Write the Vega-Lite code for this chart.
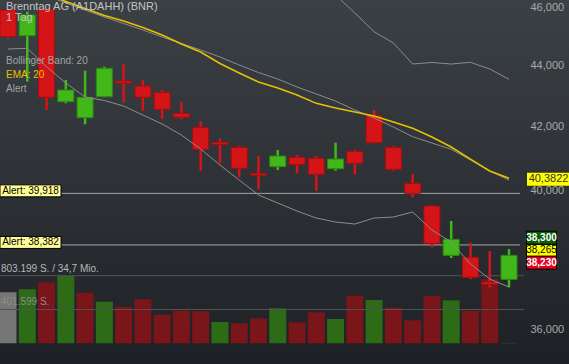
{
"$schema":"https://vega.github.io/schema/vega-lite/v6.json",
"width":569,"height":364,"autosize":{"type":"none"},"padding":0,
"background":"#2c3035",
"title":{"text":"Brenntag AG (A1DAHH) (BNR)","subtitle":"1 Tag","anchor":"start","frame":"group","offset":-23,"dx":6,"fontSize":11,"subtitleFontSize":11,"font":"Liberation Sans","subtitleFont":"Liberation Sans","fontWeight":"normal","color":"#c4c4c4","subtitleColor":"#c4c4c4","subtitlePadding":0},
"config":{
 "locale":{"number":{"decimal":",","thousands":".","grouping":[3],"currency":[""," €"]}},
 "font":"Liberation Sans",
 "view":{"stroke":null,"fill":{"gradient":"linear","x1":0,"y1":0,"x2":0,"y2":1,"stops":[{"offset":0,"color":"#3b4045"},{"offset":0.5,"color":"#2e3236"},{"offset":1,"color":"#1d2024"}]}}
},
"datasets":{
 "k":[
  {"d":"2018-11-06","o":45.895,"h":45.93,"l":44.928,"c":44.972,"v":606000,"vc":"n","mb":46.884,"lb":44.553,"ema":46.955},
  {"d":"2018-11-07","o":45.006,"h":45.836,"l":43.458,"c":45.721,"v":641600,"vc":"u","mb":46.634,"lb":44.577,"ema":46.706},
  {"d":"2018-11-08","o":45.92,"h":45.93,"l":42.532,"c":42.945,"v":724800,"vc":"d","mb":46.401,"lb":43.957,"ema":46.457},
  {"d":"2018-11-09","o":42.801,"h":43.514,"l":42.749,"c":43.184,"v":803199,"vc":"u","mb":46.14,"lb":43.415,"ema":46.193},
  {"d":"2018-11-12","o":42.283,"h":43.823,"l":42.072,"c":42.945,"v":601200,"vc":"d","mb":45.895,"lb":42.955,"ema":45.948},
  {"d":"2018-11-13","o":42.965,"h":43.957,"l":42.945,"c":43.903,"v":494300,"vc":"u","mb":45.651,"lb":42.841,"ema":45.703},
  {"d":"2018-11-14","o":43.481,"h":44.047,"l":42.769,"c":43.405,"v":434900,"vc":"d","mb":45.426,"lb":42.662,"ema":45.513},
  {"d":"2018-11-15","o":43.316,"h":43.514,"l":42.509,"c":42.945,"v":522800,"vc":"d","mb":45.202,"lb":42.37,"ema":45.288},
  {"d":"2018-11-16","o":43.108,"h":43.184,"l":42.241,"c":42.555,"v":339800,"vc":"d","mb":44.962,"lb":42.081,"ema":45.03},
  {"d":"2018-11-19","o":42.425,"h":42.801,"l":42.241,"c":42.296,"v":387400,"vc":"d","mb":44.74,"lb":41.73,"ema":44.723},
  {"d":"2018-11-20","o":41.976,"h":42.177,"l":40.612,"c":41.279,"v":380200,"vc":"d","mb":44.519,"lb":41.288,"ema":44.451},
  {"d":"2018-11-21","o":41.499,"h":41.626,"l":40.841,"c":41.424,"v":253100,"vc":"u","mb":44.283,"lb":40.788,"ema":44.064},
  {"d":"2018-11-22","o":41.342,"h":41.383,"l":40.408,"c":40.686,"v":237600,"vc":"d","mb":44.014,"lb":40.325,"ema":43.747},
  {"d":"2018-11-23","o":40.532,"h":41.069,"l":40.041,"c":40.47,"v":297000,"vc":"d","mb":43.763,"lb":39.868,"ema":43.448},
  {"d":"2018-11-26","o":40.736,"h":41.257,"l":40.634,"c":41.069,"v":415900,"vc":"u","mb":43.547,"lb":39.626,"ema":43.25},
  {"d":"2018-11-27","o":41.028,"h":41.1,"l":40.532,"c":40.797,"v":249500,"vc":"d","mb":43.283,"lb":39.385,"ema":43.02},
  {"d":"2018-11-28","o":40.997,"h":41.069,"l":39.998,"c":40.501,"v":368300,"vc":"d","mb":43.053,"lb":39.176,"ema":42.749,"ub":47.098},
  {"d":"2018-11-29","o":40.674,"h":41.486,"l":40.612,"c":40.975,"v":288700,"vc":"u","mb":42.824,"lb":39.057,"ema":42.597,"ub":46.422},
  {"d":"2018-11-30","o":41.216,"h":41.257,"l":40.488,"c":40.841,"v":565600,"vc":"d","mb":42.532,"lb":38.997,"ema":42.467,"ub":45.79},
  {"d":"2018-12-03","o":42.348,"h":42.532,"l":41.468,"c":41.486,"v":514500,"vc":"u","mb":42.274,"lb":39.176,"ema":42.338,"ub":45.143},
  {"d":"2018-12-04","o":41.342,"h":41.383,"l":40.612,"c":40.655,"v":423000,"vc":"d","mb":41.985,"lb":39.206,"ema":42.145,"ub":44.757},
  {"d":"2018-12-05","o":40.224,"h":40.51,"l":39.798,"c":39.919,"v":273300,"vc":"d","mb":41.676,"lb":39.355,"ema":41.944,"ub":44.047},
  {"d":"2018-12-06","o":39.535,"h":39.566,"l":38.312,"c":38.428,"v":562000,"vc":"d","mb":41.477,"lb":38.82,"ema":41.667,"ub":44.098},
  {"d":"2018-12-07","o":38.08,"h":39.087,"l":38.002,"c":38.546,"v":510900,"vc":"u","mb":41.279,"lb":38.467,"ema":41.351,"ub":44.047},
  {"d":"2018-12-10","o":38.021,"h":38.447,"l":37.399,"c":37.447,"v":387400,"vc":"d","mb":40.944,"lb":37.828,"ema":40.975,"ub":44.104},
  {"d":"2018-12-11","o":37.314,"h":38.204,"l":37.163,"c":37.243,"v":764000,"vc":"d","mb":40.603,"lb":37.399,"ema":40.603,"ub":43.88},
  {"d":"2018-12-12","o":37.39,"h":38.263,"l":37.163,"c":38.08,"v":5000,"vc":"u","mb":40.325,"lb":37.172,"ema":40.382,"ub":43.537}
 ],
 "alerts":[{"p":39.918,"label":"Alert: 39,918"},{"p":38.382,"label":"Alert: 38,382"}],
 "vref":[{"v":803199,"label":"803.199 S. / 34,7 Mio."},{"v":401599.5,"label":"401.599 S."}],
 "ticks":[{"p":36},{"p":40},{"p":42},{"p":44},{"p":46}],
 "tags":[{"p":40.3822,"k":"ema"},{"p":38.3,"k":"last"},{"p":38.265,"k":"mid"},{"p":38.23,"k":"low"}]
},
"resolve":{"scale":{"y":"independent","color":"independent"},"axis":{"y":"independent"}},
"layer":[
  {"data":{"name":"k"},"mark":{"type":"bar","width":17},
   "encoding":{
    "x":{"field":"d","type":"ordinal","scale":{"type":"point","range":[8,509],"padding":0},
      "axis":{"values":["2018-11-12","2018-11-19","2018-11-26","2018-12-03","2018-12-10"],"labelExpr":"substring(datum.value,8,10)+'.'+substring(datum.value,5,7)+'.'","orient":"bottom","offset":-15,"labelPadding":2,"domain":false,"ticks":false,"grid":false,"title":null,"labelColor":"#c3c3c3","labelFontSize":10,"labelAngle":0}},
    "y":{"field":"v","type":"quantitative","scale":{"domain":[-245950,4078950],"nice":false,"zero":false},"axis":null},
    "y2":{"datum":0},
    "color":{"field":"vc","type":"nominal","scale":{"domain":["u","d","n"],"range":["#2d6b17","#7a1519","#767676"]},"legend":null}}},
  {"data":{"name":"vref"},"mark":{"type":"rule","color":"#4f5459","strokeWidth":1,"xOffset":-8,"x2Offset":15},
   "encoding":{
    "x":{"datum":"2018-11-06","type":"ordinal","axis":null},
    "x2":{"datum":"2018-12-12"},
    "y":{"field":"v","type":"quantitative","scale":{"domain":[-245950,4078950],"nice":false,"zero":false},"axis":null}}},
  {"data":{"name":"vref"},"mark":{"type":"text","align":"left","baseline":"bottom","xOffset":-7,"yOffset":-2,"fontSize":10},
   "encoding":{
    "x":{"datum":"2018-11-06","type":"ordinal","axis":null},
    "y":{"field":"v","type":"quantitative","scale":{"domain":[-245950,4078950],"nice":false,"zero":false},"axis":null},
    "text":{"field":"label"},
    "color":{"condition":{"test":"datum.v > 500000","value":"#b8b8b8"},"value":"#8c8c8c"}}},
  {"data":{"name":"ticks"},"mark":{"type":"text","align":"left","baseline":"middle","fontSize":11,"color":"#a9a9a9","xOffset":21},
   "encoding":{
    "x":{"datum":"2018-12-12","type":"ordinal","axis":null},
    "y":{"field":"p","type":"quantitative","scale":{"type":"log","domain":[35.0575,46.2457],"nice":false,"zero":false},
      "axis":{"orient":"right","offset":-42,"values":[36,40,42,44,46],"format":".3f","labelColor":"#a9a9a9","labelFontSize":11,"labelPadding":3,"domain":false,"ticks":false,"grid":false,"title":null}},
    "text":{"field":"p","format":".3f"},
    "opacity":{"value":0}}},
  {"data":{"name":"alerts"},"mark":{"type":"rule","color":"#a6a6a6","strokeWidth":1,"xOffset":-8,"x2Offset":11},
   "encoding":{
    "x":{"datum":"2018-11-06","type":"ordinal","axis":null},
    "x2":{"datum":"2018-12-12"},
    "y":{"field":"p","type":"quantitative","scale":{"type":"log","domain":[35.0575,46.2457],"nice":false,"zero":false},"axis":null}}},
  {"data":{"name":"k"},"mark":{"type":"rule","strokeWidth":2.5},
   "encoding":{
    "x":{"field":"d","type":"ordinal","axis":null},
    "y":{"field":"l","type":"quantitative","scale":{"type":"log","domain":[35.0575,46.2457],"nice":false,"zero":false},"axis":null},
    "y2":{"field":"h"},
    "color":{"condition":{"test":"datum.c > datum.o","value":"#41b719"},"value":"#d51418"}}},
  {"data":{"name":"k"},"mark":{"type":"bar","width":16,"strokeWidth":1},
   "encoding":{
    "x":{"field":"d","type":"ordinal","axis":null},
    "y":{"field":"o","type":"quantitative","scale":{"type":"log","domain":[35.0575,46.2457],"nice":false,"zero":false},"axis":null},
    "y2":{"field":"c"},
    "fill":{"condition":{"test":"datum.c > datum.o","value":"#41b719"},"value":"#d51418"},
    "stroke":{"condition":{"test":"datum.c > datum.o","value":"#2b8a10"},"value":"#a30e12"}}},
  {"data":{"name":"k"},"transform":[{"fold":["ub","mb","lb","ema"],"as":["k","p"]},{"filter":{"field":"p","valid":true}}],
   "mark":{"type":"line","interpolate":"linear","clip":true},
   "encoding":{
    "x":{"field":"d","type":"ordinal","axis":null},
    "y":{"field":"p","type":"quantitative","scale":{"type":"log","domain":[35.0575,46.2457],"nice":false,"zero":false},"axis":null},
    "color":{"field":"k","type":"nominal","scale":{"domain":["mb","ub","lb","ema","alert"],"range":["#8c8c8c","#8c8c8c","#8c8c8c","#e6c200","#a6a6a6"]},
      "legend":{"orient":"none","legendX":-4,"legendY":56,"title":null,"values":["mb","ema","alert"],"labelExpr":"datum.value === 'mb' ? 'Bollinger Band: 20' : datum.value === 'ema' ? 'EMA: 20' : 'Alert'","symbolSize":0,"symbolStrokeWidth":0,"symbolOpacity":0,"labelOffset":0,"labelFontSize":10,"rowPadding":4,"labelColor":"#a3a3a3","encode":{"labels":{"update":{"fill":{"signal":"datum.value === 'ema' ? '#e6c200' : '#a3a3a3'"}}}}}},
    "strokeWidth":{"condition":{"test":"datum.k === 'ema'","value":1.5},"value":1}}},
  {"data":{"name":"alerts"},"mark":{"type":"tick","orient":"horizontal","size":61,"thickness":12,"fill":"#ffff99","stroke":"#000000","strokeWidth":1,"opacity":1,"xOffset":22.5,"yOffset":-2.5},
   "encoding":{
    "x":{"datum":"2018-11-06","type":"ordinal","axis":null},
    "y":{"field":"p","type":"quantitative","scale":{"type":"log","domain":[35.0575,46.2457],"nice":false,"zero":false},"axis":null}}},
  {"data":{"name":"alerts"},"mark":{"type":"text","align":"center","baseline":"middle","fontSize":10,"color":"#000000","xOffset":22.5,"yOffset":-2.5},
   "encoding":{
    "x":{"datum":"2018-11-06","type":"ordinal","axis":null},
    "y":{"field":"p","type":"quantitative","scale":{"type":"log","domain":[35.0575,46.2457],"nice":false,"zero":false},"axis":null},
    "text":{"field":"label"}}},
  {"data":{"name":"tags"},"transform":[{"filter":"datum.k === 'ema'"}],"mark":{"type":"tick","orient":"horizontal","size":44,"thickness":13,"fill":"#ffff00","opacity":1,"xOffset":40,"yOffset":1},
   "encoding":{
    "x":{"datum":"2018-12-12","type":"ordinal","axis":null},
    "y":{"field":"p","type":"quantitative","scale":{"type":"log","domain":[35.0575,46.2457],"nice":false,"zero":false},"axis":null}}},
  {"data":{"name":"tags"},"transform":[{"filter":"datum.k === 'ema'"}],"mark":{"type":"text","align":"center","baseline":"middle","fontSize":11,"color":"#333333","xOffset":39.5,"yOffset":1},
   "encoding":{
    "x":{"datum":"2018-12-12","type":"ordinal","axis":null},
    "y":{"field":"p","type":"quantitative","scale":{"type":"log","domain":[35.0575,46.2457],"nice":false,"zero":false},"axis":null},
    "text":{"field":"p","format":".4f"}}},
  {"data":{"name":"tags"},"transform":[{"filter":"datum.k === 'last'"}],"mark":{"type":"tick","orient":"horizontal","size":30,"thickness":13,"fill":"#0b5c0b","stroke":"#000000","strokeWidth":1,"opacity":1,"xOffset":32.5,"yOffset":-10},
   "encoding":{
    "x":{"datum":"2018-12-12","type":"ordinal","axis":null},
    "y":{"field":"p","type":"quantitative","scale":{"type":"log","domain":[35.0575,46.2457],"nice":false,"zero":false},"axis":null}}},
  {"data":{"name":"tags"},"transform":[{"filter":"datum.k === 'last'"}],"mark":{"type":"text","align":"center","baseline":"middle","fontSize":10,"fontWeight":"bold","color":"#ffffff","xOffset":32.5,"yOffset":-10},
   "encoding":{
    "x":{"datum":"2018-12-12","type":"ordinal","axis":null},
    "y":{"field":"p","type":"quantitative","scale":{"type":"log","domain":[35.0575,46.2457],"nice":false,"zero":false},"axis":null},
    "text":{"field":"p","format":".3f"}}},
  {"data":{"name":"tags"},"transform":[{"filter":"datum.k === 'mid'"}],"mark":{"type":"tick","orient":"horizontal","size":30,"thickness":12,"fill":"#ffff00","stroke":"#000000","strokeWidth":1,"opacity":1,"xOffset":32.5,"yOffset":1.5},
   "encoding":{
    "x":{"datum":"2018-12-12","type":"ordinal","axis":null},
    "y":{"field":"p","type":"quantitative","scale":{"type":"log","domain":[35.0575,46.2457],"nice":false,"zero":false},"axis":null}}},
  {"data":{"name":"tags"},"transform":[{"filter":"datum.k === 'mid'"}],"mark":{"type":"text","align":"center","baseline":"middle","fontSize":10,"color":"#000000","xOffset":32.5,"yOffset":1.5},
   "encoding":{
    "x":{"datum":"2018-12-12","type":"ordinal","axis":null},
    "y":{"field":"p","type":"quantitative","scale":{"type":"log","domain":[35.0575,46.2457],"nice":false,"zero":false},"axis":null},
    "text":{"field":"p","format":".3f"}}},
  {"data":{"name":"tags"},"transform":[{"filter":"datum.k === 'low'"}],"mark":{"type":"tick","orient":"horizontal","size":30,"thickness":13,"fill":"#e3001b","stroke":"#000000","strokeWidth":1,"opacity":1,"xOffset":32.5,"yOffset":12.5},
   "encoding":{
    "x":{"datum":"2018-12-12","type":"ordinal","axis":null},
    "y":{"field":"p","type":"quantitative","scale":{"type":"log","domain":[35.0575,46.2457],"nice":false,"zero":false},"axis":null}}},
  {"data":{"name":"tags"},"transform":[{"filter":"datum.k === 'low'"}],"mark":{"type":"text","align":"center","baseline":"middle","fontSize":10,"fontWeight":"bold","color":"#ffffff","xOffset":32.5,"yOffset":12.5},
   "encoding":{
    "x":{"datum":"2018-12-12","type":"ordinal","axis":null},
    "y":{"field":"p","type":"quantitative","scale":{"type":"log","domain":[35.0575,46.2457],"nice":false,"zero":false},"axis":null},
    "text":{"field":"p","format":".3f"}}}
]
}
